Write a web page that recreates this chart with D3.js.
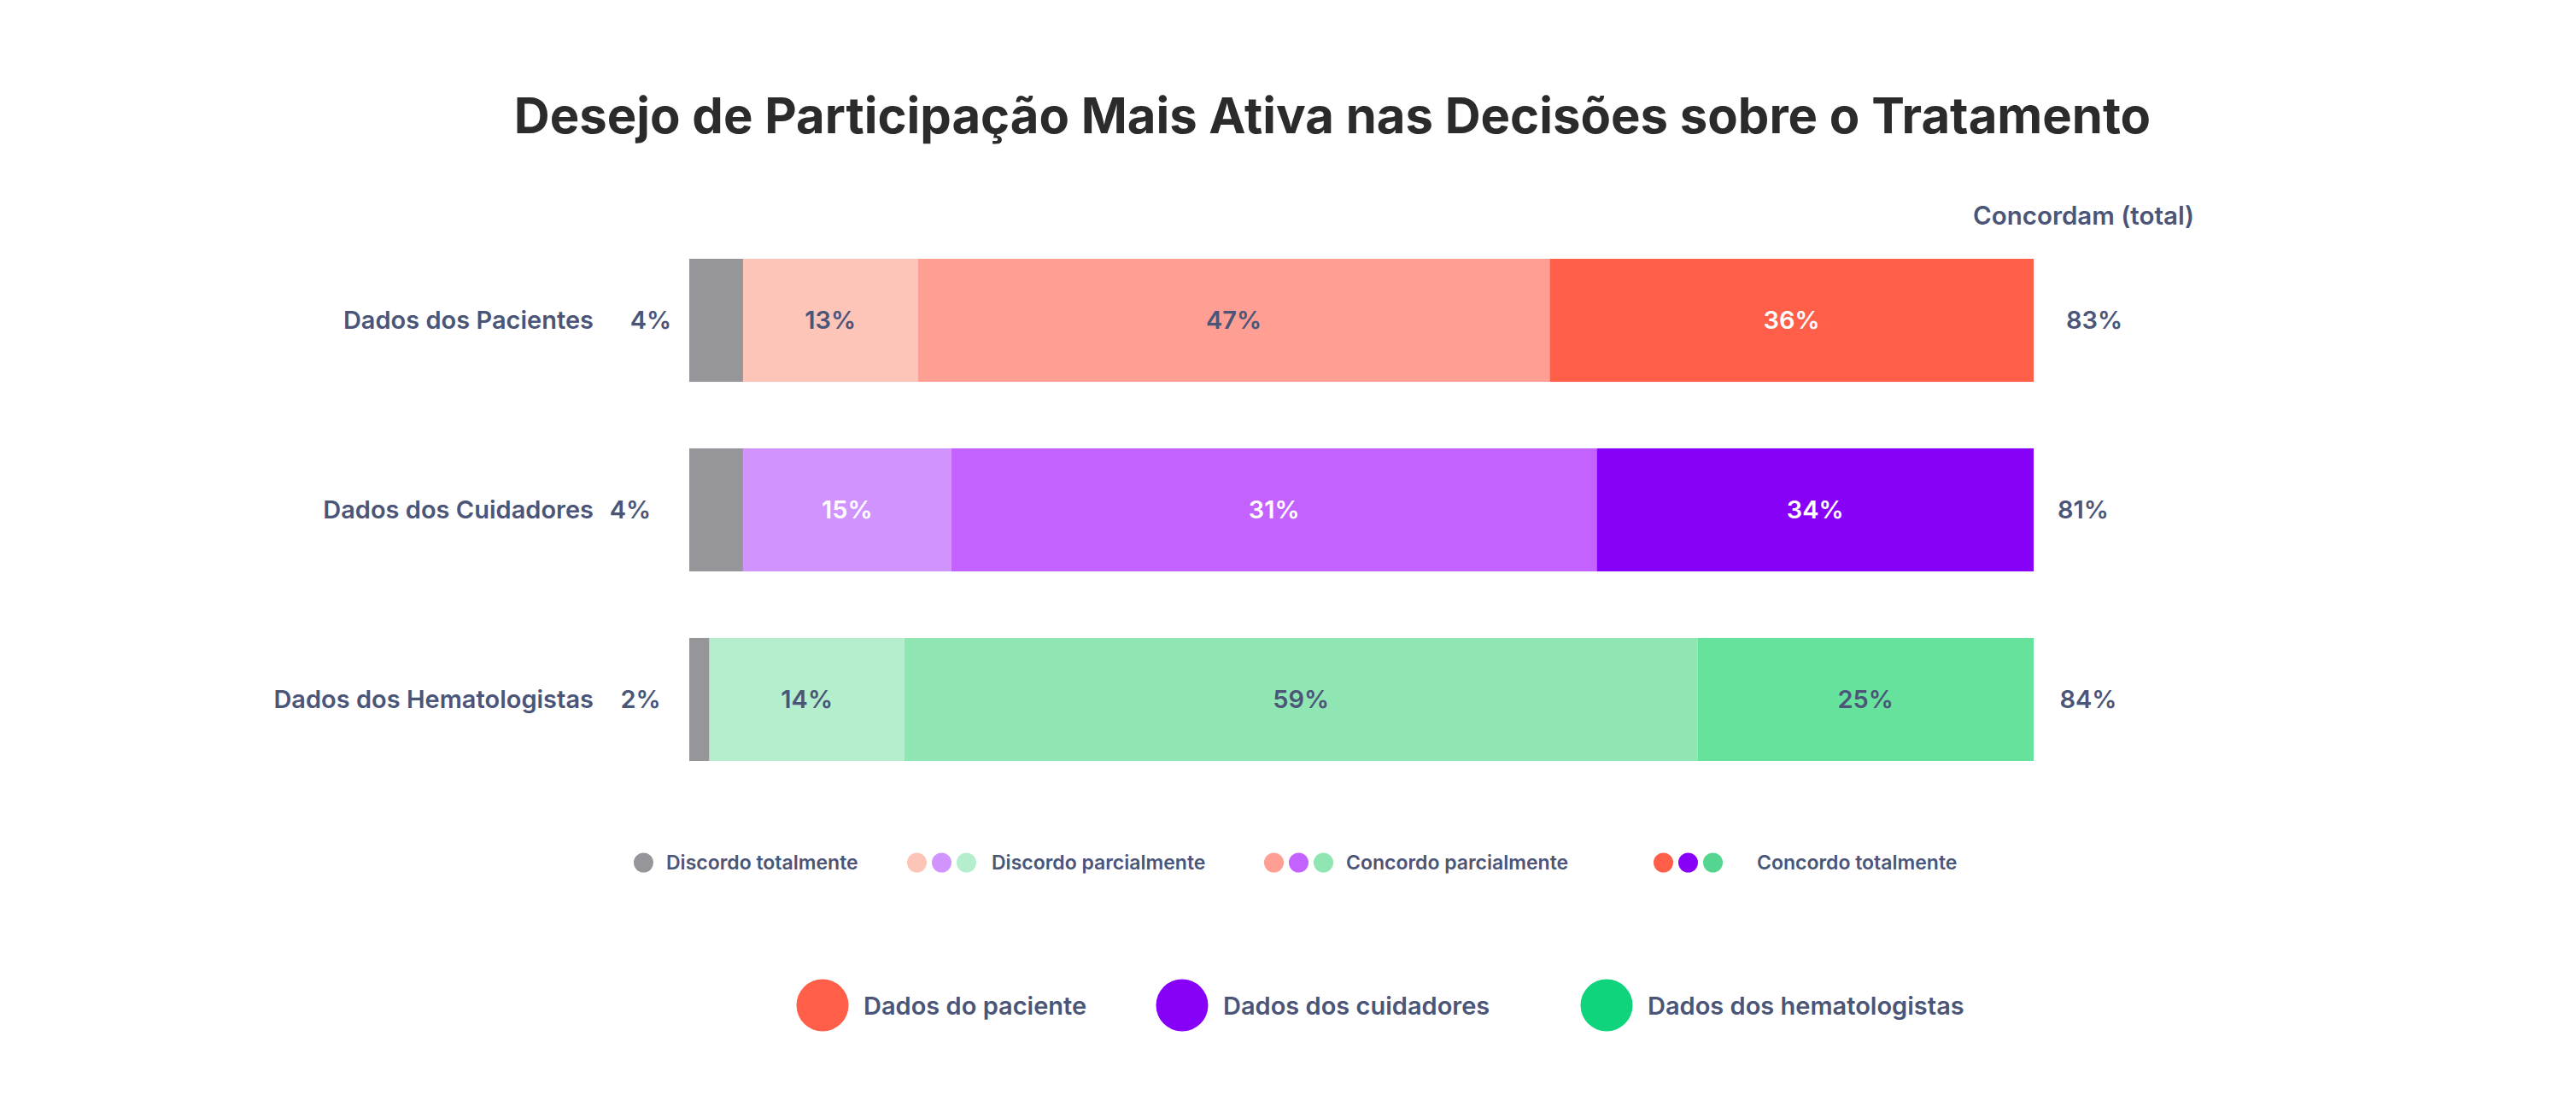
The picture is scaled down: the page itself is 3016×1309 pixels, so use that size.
<!DOCTYPE html>
<html>
<head>
<meta charset="utf-8">
<script src="https://cdn.jsdelivr.net/npm/d3@7"></script>
<style>
  html, body { margin: 0; padding: 0; background: #fff; }
  svg { display: block; font-family: Inter, "Noto Sans", sans-serif; }
</style>
</head>
<body>
<svg id="chart" width="3016" height="1309"></svg>
<script>
const categories = ["Dados dos Pacientes", "Dados dos Cuidadores", "Dados dos Hematologistas"];

// segment widths as drawn (percent of each bar)
const discordoTotal = [4, 4, 1.5];
const discordoParcial = [13, 15.5, 14.5];
const concordoParcial = [47, 48, 59];
const concordoTotal = [36, 32.5, 25];

// labels printed on the chart
const discordoTotalLabels = ["4%", "4%", "2%"];
const discordoParcialLabels = ["13%", "15%", "14%"];
const concordoParcialLabels = ["47%", "31%", "59%"];
const concordoTotalLabels = ["36%", "34%", "25%"];
const concordamTotal = ["83%", "81%", "84%"];

const segmentNames = ["Discordo totalmente", "Discordo parcialmente", "Concordo parcialmente", "Concordo totalmente"];
const groupNames = ["Dados do paciente", "Dados dos cuidadores", "Dados dos hematologistas"];

const grey = "#96969a";
const palette = [
  ["#fdc4b8", "#ff9f93", "#ff5e48"],
  ["#d194ff", "#c362fe", "#8700f7"],
  ["#b4eecc", "#90e6b3", "#67e29d"]
];
const groupColors = ["#ff5e48", "#8700f7", "#0fd47c"];
const legendDots = [[grey], palette.map(p => p[0]), palette.map(p => p[1]), ["#ff5e48", "#8700f7", "#55d690"]];
const textDark = "#4a5578";
const whiteText = [[false, false, false, true], [false, true, true, true], [false, false, false, false]];
const leftPctX = [762, 738, 750];
const rightPctX = [2452, 2439, 2445];

const svg = d3.select("#chart");

const x = d3.scaleLinear().domain([0, 100]).range([807, 2381]);
const y = d3.scaleBand().domain(categories).range([303, 891]).paddingInner(0.351);

const rows = categories.map((c, i) => {
  const vals = [discordoTotal[i], discordoParcial[i], concordoParcial[i], concordoTotal[i]];
  const labels = [discordoTotalLabels[i], discordoParcialLabels[i], concordoParcialLabels[i], concordoTotalLabels[i]];
  let acc = 0;
  const segs = vals.map((v, j) => {
    const s = {cat: c, row: i, idx: j, x0: acc, x1: acc + v, label: labels[j]};
    acc += v;
    return s;
  });
  return {cat: c, i, segs};
});

// title
svg.append("text")
  .attr("x", 1560)
  .attr("y", 156)
  .attr("text-anchor", "middle")
  .style("font-size", "58px")
  .style("font-weight", 700)
  .style("fill", "#2b2b2b")
  .text("Desejo de Participação Mais Ativa nas Decisões sobre o Tratamento");

svg.append("text")
  .attr("x", 2310)
  .attr("y", 263)
  .style("font-size", "29.5px")
  .style("font-weight", 600)
  .style("fill", textDark)
  .text("Concordam (total)");

const row = svg.selectAll("g.row")
  .data(rows)
  .join("g")
  .attr("class", "row");

row.selectAll("rect")
  .data(d => d.segs)
  .join("rect")
  .attr("x", d => x(d.x0))
  .attr("y", d => y(d.cat))
  .attr("width", d => x(d.x1) - x(d.x0))
  .attr("height", y.bandwidth())
  .attr("fill", d => d.idx === 0 ? grey : palette[d.row][d.idx - 1]);

// labels inside the bars (grey segment label sits left of the bar)
row.selectAll("text.seg")
  .data(d => d.segs.filter(s => s.idx > 0))
  .join("text")
  .attr("class", "seg")
  .attr("x", d => (x(d.x0) + x(d.x1)) / 2)
  .attr("y", d => y(d.cat) + y.bandwidth() / 2 + 10)
  .attr("text-anchor", "middle")
  .style("font-size", "29px")
  .style("font-weight", 600)
  .style("fill", d => whiteText[d.row][d.idx] ? "#ffffff" : textDark)
  .text(d => d.label);

row.append("text")
  .attr("x", d => leftPctX[d.i])
  .attr("y", d => y(d.cat) + y.bandwidth() / 2 + 10)
  .attr("text-anchor", "middle")
  .style("font-size", "29px")
  .style("font-weight", 600)
  .style("fill", textDark)
  .text(d => d.segs[0].label);

row.append("text")
  .attr("x", 695)
  .attr("y", d => y(d.cat) + y.bandwidth() / 2 + 10)
  .attr("text-anchor", "end")
  .style("font-size", "29px")
  .style("font-weight", 600)
  .style("fill", textDark)
  .text(d => d.cat);

row.append("text")
  .attr("x", d => rightPctX[d.i])
  .attr("y", d => y(d.cat) + y.bandwidth() / 2 + 10)
  .attr("text-anchor", "middle")
  .style("font-size", "29px")
  .style("font-weight", 600)
  .style("fill", textDark)
  .text((d, i) => concordamTotal[i]);

// legend of answer types
const legendStart = [742, 1062, 1480, 1936];
const legendTextX = [780, 1161, 1576, 2057];
const legend = svg.append("g").attr("class", "legend");
segmentNames.forEach((name, i) => {
  const g = legend.append("g");
  g.selectAll("circle")
    .data(legendDots[i])
    .join("circle")
    .attr("cx", (d, k) => legendStart[i] + 11.5 + k * 29)
    .attr("cy", 1010)
    .attr("r", 11.5)
    .attr("fill", d => d);
  g.append("text")
    .attr("x", legendTextX[i])
    .attr("y", 1018)
    .style("font-size", "23px")
    .style("font-weight", 600)
    .style("fill", textDark)
    .text(name);
});

// legend of groups
const groupX = [963, 1384, 1881];
const groupLegend = svg.append("g").attr("class", "groupLegend");
groupNames.forEach((name, i) => {
  groupLegend.append("circle")
    .attr("cx", groupX[i])
    .attr("cy", 1177)
    .attr("r", 30.5)
    .attr("fill", groupColors[i]);
  groupLegend.append("text")
    .attr("x", groupX[i] + 48)
    .attr("y", 1188)
    .style("font-size", "29px")
    .style("font-weight", 600)
    .style("fill", textDark)
    .text(name);
});
</script>
</body>
</html>
